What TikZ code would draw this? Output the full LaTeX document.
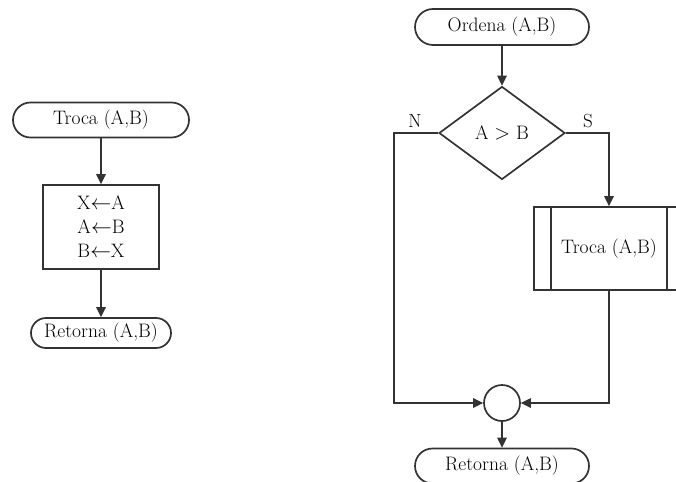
\documentclass[tikz,border=0pt]{standalone}
\usepackage{fontspec}
\setmainfont{Latin Modern Roman}
\usetikzlibrary{shapes.geometric,arrows.meta}
\begin{document}
\begin{tikzpicture}[x=1pt,y=-1pt,
  every node/.style={font=\fontsize{19.5}{24}\selectfont, inner sep=0pt},
  line/.style={line width=1.7pt, draw=black!80},
  arrow/.style={line width=1.3pt, draw=black!80, -{Triangle[length=10pt,width=9.5pt]}},
  terminal/.style={line, rectangle, align=center},
  procbox/.style={line, rectangle, align=center},
  decision/.style={line, diamond},
  junction/.style={line, circle, minimum size=36pt},
  lbl/.style={font=\fontsize{19}{20}\selectfont}]
\clip (0,0) rectangle (676,481);
% left flowchart
\node[terminal, rounded corners=17.5pt, minimum width=176pt, minimum height=35pt] (t1) at (101,120) {Troca (A,B)};
\node[procbox, minimum width=116pt, minimum height=84pt] (b1) at (101,227)
  {X$\leftarrow$A\\ A$\leftarrow$B\\ B$\leftarrow$X};
\node[terminal, rounded corners=15pt, minimum width=140pt, minimum height=30pt] (r1) at (101,333) {Retorna (A,B)};
\draw[arrow] (t1) -- (b1);
\draw[arrow] (b1) -- (r1);
% right flowchart
\node[terminal, rounded corners=18pt, minimum width=174pt, minimum height=36pt] (o) at (502,27) {Ordena (A,B)};
\node[decision, minimum width=126pt, minimum height=93pt] (d) at (502,133) {A $>$ B};
\node[procbox, minimum width=150pt, minimum height=83pt] (tr) at (609,248.5) {Troca (A,B)};
\draw[line] ([xshift=18pt]tr.north west) -- ([xshift=18pt]tr.south west);
\draw[line] ([xshift=-18pt]tr.north east) -- ([xshift=-18pt]tr.south east);
\node[junction] (c) at (502,403) {};
\node[terminal, rounded corners=17.5pt, minimum width=174pt, minimum height=35pt] (r2) at (502,466) {Retorna (A,B)};
\coordinate (nL) at (394,133);
\coordinate (sR) at (609,133);
\draw[arrow] (o) -- (d);
\draw[arrow] (d.west) -- (nL) |- (c.west);
\draw[arrow] (d.east) -- (sR) -- (tr.north);
\draw[arrow] (tr.south) |- (c.east);
\draw[arrow] (c) -- (r2);
\node[lbl] (nlab) at (415,121) {N};
\node[lbl] (slab) at (588,121) {S};
\end{tikzpicture}
\end{document}
